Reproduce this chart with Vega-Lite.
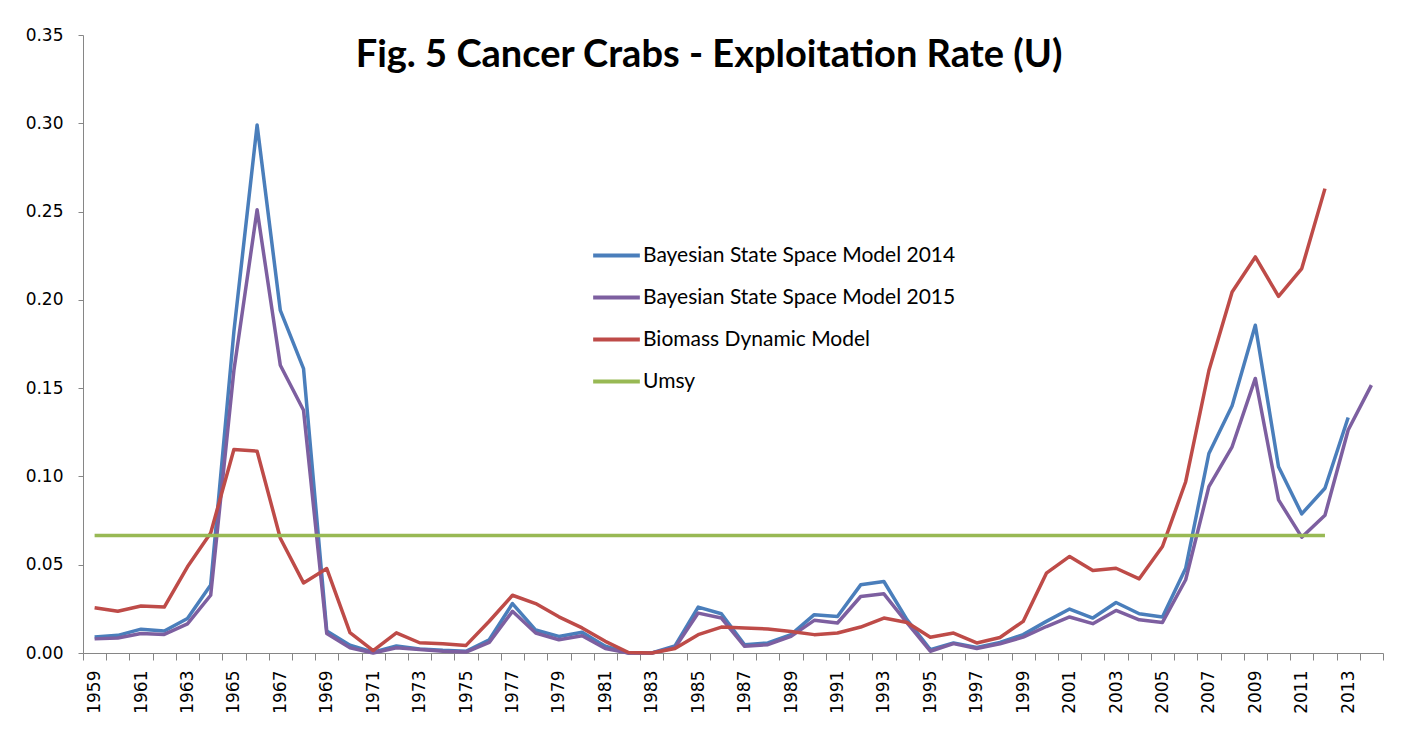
{
  "$schema": "https://vega.github.io/schema/vega-lite/v6.json",
  "autosize": {"type": "none"},
  "width": 1300,
  "height": 618,
  "padding": {"left": 83, "top": 35, "right": 37, "bottom": 87},
  "background": "white",
  "title": {
    "text": "Fig. 5 Cancer Crabs - Exploitation Rate (U)",
    "font": "Lato",
    "fontWeight": "bold",
    "fontSize": 38,
    "color": "#000000",
    "orient": "none",
    "anchor": "middle",
    "align": "center",
    "frame": "group",
    "baseline": "alphabetic",
    "dx": 626,
    "dy": 32
  },
  "config": {
    "view": {"stroke": null},
    "axis": {"grid": false, "domainColor": "#868686", "tickColor": "#868686", "labelFont": "DejaVu Sans", "labelFontSize": 17, "labelColor": "#000000", "title": null}
  },
  "data": {
    "values": [
      {"series": "Bayesian State Space Model 2014", "year": 1959, "u": 0.009},
      {"series": "Bayesian State Space Model 2014", "year": 1960, "u": 0.010},
      {"series": "Bayesian State Space Model 2014", "year": 1961, "u": 0.0135},
      {"series": "Bayesian State Space Model 2014", "year": 1962, "u": 0.0125},
      {"series": "Bayesian State Space Model 2014", "year": 1963, "u": 0.0195},
      {"series": "Bayesian State Space Model 2014", "year": 1964, "u": 0.0385},
      {"series": "Bayesian State Space Model 2014", "year": 1965, "u": 0.182},
      {"series": "Bayesian State Space Model 2014", "year": 1966, "u": 0.299},
      {"series": "Bayesian State Space Model 2014", "year": 1967, "u": 0.194},
      {"series": "Bayesian State Space Model 2014", "year": 1968, "u": 0.161},
      {"series": "Bayesian State Space Model 2014", "year": 1969, "u": 0.0125},
      {"series": "Bayesian State Space Model 2014", "year": 1970, "u": 0.0044},
      {"series": "Bayesian State Space Model 2014", "year": 1971, "u": 0.0005},
      {"series": "Bayesian State Space Model 2014", "year": 1972, "u": 0.004},
      {"series": "Bayesian State Space Model 2014", "year": 1973, "u": 0.0023},
      {"series": "Bayesian State Space Model 2014", "year": 1974, "u": 0.0015},
      {"series": "Bayesian State Space Model 2014", "year": 1975, "u": 0.001},
      {"series": "Bayesian State Space Model 2014", "year": 1976, "u": 0.0075},
      {"series": "Bayesian State Space Model 2014", "year": 1977, "u": 0.028},
      {"series": "Bayesian State Space Model 2014", "year": 1978, "u": 0.013},
      {"series": "Bayesian State Space Model 2014", "year": 1979, "u": 0.0094},
      {"series": "Bayesian State Space Model 2014", "year": 1980, "u": 0.0117},
      {"series": "Bayesian State Space Model 2014", "year": 1981, "u": 0.0038},
      {"series": "Bayesian State Space Model 2014", "year": 1982, "u": 0.0},
      {"series": "Bayesian State Space Model 2014", "year": 1983, "u": 0.0},
      {"series": "Bayesian State Space Model 2014", "year": 1984, "u": 0.004},
      {"series": "Bayesian State Space Model 2014", "year": 1985, "u": 0.026},
      {"series": "Bayesian State Space Model 2014", "year": 1986, "u": 0.0222},
      {"series": "Bayesian State Space Model 2014", "year": 1987, "u": 0.0047},
      {"series": "Bayesian State Space Model 2014", "year": 1988, "u": 0.0057},
      {"series": "Bayesian State Space Model 2014", "year": 1989, "u": 0.0104},
      {"series": "Bayesian State Space Model 2014", "year": 1990, "u": 0.0217},
      {"series": "Bayesian State Space Model 2014", "year": 1991, "u": 0.0207},
      {"series": "Bayesian State Space Model 2014", "year": 1992, "u": 0.0386},
      {"series": "Bayesian State Space Model 2014", "year": 1993, "u": 0.0405},
      {"series": "Bayesian State Space Model 2014", "year": 1994, "u": 0.0188},
      {"series": "Bayesian State Space Model 2014", "year": 1995, "u": 0.0019},
      {"series": "Bayesian State Space Model 2014", "year": 1996, "u": 0.0057},
      {"series": "Bayesian State Space Model 2014", "year": 1997, "u": 0.0032},
      {"series": "Bayesian State Space Model 2014", "year": 1998, "u": 0.006},
      {"series": "Bayesian State Space Model 2014", "year": 1999, "u": 0.0104},
      {"series": "Bayesian State Space Model 2014", "year": 2000, "u": 0.0179},
      {"series": "Bayesian State Space Model 2014", "year": 2001, "u": 0.0249},
      {"series": "Bayesian State Space Model 2014", "year": 2002, "u": 0.0198},
      {"series": "Bayesian State Space Model 2014", "year": 2003, "u": 0.0286},
      {"series": "Bayesian State Space Model 2014", "year": 2004, "u": 0.0222},
      {"series": "Bayesian State Space Model 2014", "year": 2005, "u": 0.0204},
      {"series": "Bayesian State Space Model 2014", "year": 2006, "u": 0.048},
      {"series": "Bayesian State Space Model 2014", "year": 2007, "u": 0.113},
      {"series": "Bayesian State Space Model 2014", "year": 2008, "u": 0.140},
      {"series": "Bayesian State Space Model 2014", "year": 2009, "u": 0.1856},
      {"series": "Bayesian State Space Model 2014", "year": 2010, "u": 0.1055},
      {"series": "Bayesian State Space Model 2014", "year": 2011, "u": 0.0788},
      {"series": "Bayesian State Space Model 2014", "year": 2012, "u": 0.0933},
      {"series": "Bayesian State Space Model 2014", "year": 2013, "u": 0.1334},

      {"series": "Bayesian State Space Model 2015", "year": 1959, "u": 0.008},
      {"series": "Bayesian State Space Model 2015", "year": 1960, "u": 0.0085},
      {"series": "Bayesian State Space Model 2015", "year": 1961, "u": 0.011},
      {"series": "Bayesian State Space Model 2015", "year": 1962, "u": 0.0105},
      {"series": "Bayesian State Space Model 2015", "year": 1963, "u": 0.0165},
      {"series": "Bayesian State Space Model 2015", "year": 1964, "u": 0.0327},
      {"series": "Bayesian State Space Model 2015", "year": 1965, "u": 0.16},
      {"series": "Bayesian State Space Model 2015", "year": 1966, "u": 0.251},
      {"series": "Bayesian State Space Model 2015", "year": 1967, "u": 0.163},
      {"series": "Bayesian State Space Model 2015", "year": 1968, "u": 0.1375},
      {"series": "Bayesian State Space Model 2015", "year": 1969, "u": 0.011},
      {"series": "Bayesian State Space Model 2015", "year": 1970, "u": 0.003},
      {"series": "Bayesian State Space Model 2015", "year": 1971, "u": 0.0},
      {"series": "Bayesian State Space Model 2015", "year": 1972, "u": 0.003},
      {"series": "Bayesian State Space Model 2015", "year": 1973, "u": 0.002},
      {"series": "Bayesian State Space Model 2015", "year": 1974, "u": 0.001},
      {"series": "Bayesian State Space Model 2015", "year": 1975, "u": 0.0005},
      {"series": "Bayesian State Space Model 2015", "year": 1976, "u": 0.006},
      {"series": "Bayesian State Space Model 2015", "year": 1977, "u": 0.0236},
      {"series": "Bayesian State Space Model 2015", "year": 1978, "u": 0.0113},
      {"series": "Bayesian State Space Model 2015", "year": 1979, "u": 0.0075},
      {"series": "Bayesian State Space Model 2015", "year": 1980, "u": 0.0098},
      {"series": "Bayesian State Space Model 2015", "year": 1981, "u": 0.0025},
      {"series": "Bayesian State Space Model 2015", "year": 1982, "u": 0.0},
      {"series": "Bayesian State Space Model 2015", "year": 1983, "u": 0.0},
      {"series": "Bayesian State Space Model 2015", "year": 1984, "u": 0.003},
      {"series": "Bayesian State Space Model 2015", "year": 1985, "u": 0.0226},
      {"series": "Bayesian State Space Model 2015", "year": 1986, "u": 0.0198},
      {"series": "Bayesian State Space Model 2015", "year": 1987, "u": 0.0038},
      {"series": "Bayesian State Space Model 2015", "year": 1988, "u": 0.0047},
      {"series": "Bayesian State Space Model 2015", "year": 1989, "u": 0.0094},
      {"series": "Bayesian State Space Model 2015", "year": 1990, "u": 0.0185},
      {"series": "Bayesian State Space Model 2015", "year": 1991, "u": 0.017},
      {"series": "Bayesian State Space Model 2015", "year": 1992, "u": 0.032},
      {"series": "Bayesian State Space Model 2015", "year": 1993, "u": 0.0335},
      {"series": "Bayesian State Space Model 2015", "year": 1994, "u": 0.017},
      {"series": "Bayesian State Space Model 2015", "year": 1995, "u": 0.001},
      {"series": "Bayesian State Space Model 2015", "year": 1996, "u": 0.0053},
      {"series": "Bayesian State Space Model 2015", "year": 1997, "u": 0.0025},
      {"series": "Bayesian State Space Model 2015", "year": 1998, "u": 0.0052},
      {"series": "Bayesian State Space Model 2015", "year": 1999, "u": 0.009},
      {"series": "Bayesian State Space Model 2015", "year": 2000, "u": 0.015},
      {"series": "Bayesian State Space Model 2015", "year": 2001, "u": 0.0204},
      {"series": "Bayesian State Space Model 2015", "year": 2002, "u": 0.0166},
      {"series": "Bayesian State Space Model 2015", "year": 2003, "u": 0.0241},
      {"series": "Bayesian State Space Model 2015", "year": 2004, "u": 0.0188},
      {"series": "Bayesian State Space Model 2015", "year": 2005, "u": 0.0173},
      {"series": "Bayesian State Space Model 2015", "year": 2006, "u": 0.0415},
      {"series": "Bayesian State Space Model 2015", "year": 2007, "u": 0.0942},
      {"series": "Bayesian State Space Model 2015", "year": 2008, "u": 0.1168},
      {"series": "Bayesian State Space Model 2015", "year": 2009, "u": 0.1555},
      {"series": "Bayesian State Space Model 2015", "year": 2010, "u": 0.0867},
      {"series": "Bayesian State Space Model 2015", "year": 2011, "u": 0.0656},
      {"series": "Bayesian State Space Model 2015", "year": 2012, "u": 0.078},
      {"series": "Bayesian State Space Model 2015", "year": 2013, "u": 0.1263},
      {"series": "Bayesian State Space Model 2015", "year": 2014, "u": 0.1517},

      {"series": "Biomass Dynamic Model", "year": 1959, "u": 0.0256},
      {"series": "Biomass Dynamic Model", "year": 1960, "u": 0.0236},
      {"series": "Biomass Dynamic Model", "year": 1961, "u": 0.0266},
      {"series": "Biomass Dynamic Model", "year": 1962, "u": 0.026},
      {"series": "Biomass Dynamic Model", "year": 1963, "u": 0.0488},
      {"series": "Biomass Dynamic Model", "year": 1964, "u": 0.068},
      {"series": "Biomass Dynamic Model", "year": 1965, "u": 0.1153},
      {"series": "Biomass Dynamic Model", "year": 1966, "u": 0.1143},
      {"series": "Biomass Dynamic Model", "year": 1967, "u": 0.065},
      {"series": "Biomass Dynamic Model", "year": 1968, "u": 0.0397},
      {"series": "Biomass Dynamic Model", "year": 1969, "u": 0.0478},
      {"series": "Biomass Dynamic Model", "year": 1970, "u": 0.0115},
      {"series": "Biomass Dynamic Model", "year": 1971, "u": 0.0014},
      {"series": "Biomass Dynamic Model", "year": 1972, "u": 0.0114},
      {"series": "Biomass Dynamic Model", "year": 1973, "u": 0.0058},
      {"series": "Biomass Dynamic Model", "year": 1974, "u": 0.0052},
      {"series": "Biomass Dynamic Model", "year": 1975, "u": 0.0043},
      {"series": "Biomass Dynamic Model", "year": 1976, "u": 0.018},
      {"series": "Biomass Dynamic Model", "year": 1977, "u": 0.0327},
      {"series": "Biomass Dynamic Model", "year": 1978, "u": 0.028},
      {"series": "Biomass Dynamic Model", "year": 1979, "u": 0.0205},
      {"series": "Biomass Dynamic Model", "year": 1980, "u": 0.0142},
      {"series": "Biomass Dynamic Model", "year": 1981, "u": 0.0066},
      {"series": "Biomass Dynamic Model", "year": 1982, "u": 0.0003},
      {"series": "Biomass Dynamic Model", "year": 1983, "u": 0.0},
      {"series": "Biomass Dynamic Model", "year": 1984, "u": 0.0025},
      {"series": "Biomass Dynamic Model", "year": 1985, "u": 0.0104},
      {"series": "Biomass Dynamic Model", "year": 1986, "u": 0.0147},
      {"series": "Biomass Dynamic Model", "year": 1987, "u": 0.0141},
      {"series": "Biomass Dynamic Model", "year": 1988, "u": 0.0136},
      {"series": "Biomass Dynamic Model", "year": 1989, "u": 0.0122},
      {"series": "Biomass Dynamic Model", "year": 1990, "u": 0.0104},
      {"series": "Biomass Dynamic Model", "year": 1991, "u": 0.0113},
      {"series": "Biomass Dynamic Model", "year": 1992, "u": 0.0147},
      {"series": "Biomass Dynamic Model", "year": 1993, "u": 0.0198},
      {"series": "Biomass Dynamic Model", "year": 1994, "u": 0.0173},
      {"series": "Biomass Dynamic Model", "year": 1995, "u": 0.0089},
      {"series": "Biomass Dynamic Model", "year": 1996, "u": 0.0113},
      {"series": "Biomass Dynamic Model", "year": 1997, "u": 0.0057},
      {"series": "Biomass Dynamic Model", "year": 1998, "u": 0.0088},
      {"series": "Biomass Dynamic Model", "year": 1999, "u": 0.0179},
      {"series": "Biomass Dynamic Model", "year": 2000, "u": 0.0452},
      {"series": "Biomass Dynamic Model", "year": 2001, "u": 0.0547},
      {"series": "Biomass Dynamic Model", "year": 2002, "u": 0.0467},
      {"series": "Biomass Dynamic Model", "year": 2003, "u": 0.048},
      {"series": "Biomass Dynamic Model", "year": 2004, "u": 0.042},
      {"series": "Biomass Dynamic Model", "year": 2005, "u": 0.0603},
      {"series": "Biomass Dynamic Model", "year": 2006, "u": 0.097},
      {"series": "Biomass Dynamic Model", "year": 2007, "u": 0.160},
      {"series": "Biomass Dynamic Model", "year": 2008, "u": 0.2045},
      {"series": "Biomass Dynamic Model", "year": 2009, "u": 0.2243},
      {"series": "Biomass Dynamic Model", "year": 2010, "u": 0.202},
      {"series": "Biomass Dynamic Model", "year": 2011, "u": 0.2177},
      {"series": "Biomass Dynamic Model", "year": 2012, "u": 0.263},

      {"series": "Umsy", "year": 1959, "u": 0.0666},
      {"series": "Umsy", "year": 1960, "u": 0.0666},
      {"series": "Umsy", "year": 1961, "u": 0.0666},
      {"series": "Umsy", "year": 1962, "u": 0.0666},
      {"series": "Umsy", "year": 1963, "u": 0.0666},
      {"series": "Umsy", "year": 1964, "u": 0.0666},
      {"series": "Umsy", "year": 1965, "u": 0.0666},
      {"series": "Umsy", "year": 1966, "u": 0.0666},
      {"series": "Umsy", "year": 1967, "u": 0.0666},
      {"series": "Umsy", "year": 1968, "u": 0.0666},
      {"series": "Umsy", "year": 1969, "u": 0.0666},
      {"series": "Umsy", "year": 1970, "u": 0.0666},
      {"series": "Umsy", "year": 1971, "u": 0.0666},
      {"series": "Umsy", "year": 1972, "u": 0.0666},
      {"series": "Umsy", "year": 1973, "u": 0.0666},
      {"series": "Umsy", "year": 1974, "u": 0.0666},
      {"series": "Umsy", "year": 1975, "u": 0.0666},
      {"series": "Umsy", "year": 1976, "u": 0.0666},
      {"series": "Umsy", "year": 1977, "u": 0.0666},
      {"series": "Umsy", "year": 1978, "u": 0.0666},
      {"series": "Umsy", "year": 1979, "u": 0.0666},
      {"series": "Umsy", "year": 1980, "u": 0.0666},
      {"series": "Umsy", "year": 1981, "u": 0.0666},
      {"series": "Umsy", "year": 1982, "u": 0.0666},
      {"series": "Umsy", "year": 1983, "u": 0.0666},
      {"series": "Umsy", "year": 1984, "u": 0.0666},
      {"series": "Umsy", "year": 1985, "u": 0.0666},
      {"series": "Umsy", "year": 1986, "u": 0.0666},
      {"series": "Umsy", "year": 1987, "u": 0.0666},
      {"series": "Umsy", "year": 1988, "u": 0.0666},
      {"series": "Umsy", "year": 1989, "u": 0.0666},
      {"series": "Umsy", "year": 1990, "u": 0.0666},
      {"series": "Umsy", "year": 1991, "u": 0.0666},
      {"series": "Umsy", "year": 1992, "u": 0.0666},
      {"series": "Umsy", "year": 1993, "u": 0.0666},
      {"series": "Umsy", "year": 1994, "u": 0.0666},
      {"series": "Umsy", "year": 1995, "u": 0.0666},
      {"series": "Umsy", "year": 1996, "u": 0.0666},
      {"series": "Umsy", "year": 1997, "u": 0.0666},
      {"series": "Umsy", "year": 1998, "u": 0.0666},
      {"series": "Umsy", "year": 1999, "u": 0.0666},
      {"series": "Umsy", "year": 2000, "u": 0.0666},
      {"series": "Umsy", "year": 2001, "u": 0.0666},
      {"series": "Umsy", "year": 2002, "u": 0.0666},
      {"series": "Umsy", "year": 2003, "u": 0.0666},
      {"series": "Umsy", "year": 2004, "u": 0.0666},
      {"series": "Umsy", "year": 2005, "u": 0.0666},
      {"series": "Umsy", "year": 2006, "u": 0.0666},
      {"series": "Umsy", "year": 2007, "u": 0.0666},
      {"series": "Umsy", "year": 2008, "u": 0.0666},
      {"series": "Umsy", "year": 2009, "u": 0.0666},
      {"series": "Umsy", "year": 2010, "u": 0.0666},
      {"series": "Umsy", "year": 2011, "u": 0.0666},
      {"series": "Umsy", "year": 2012, "u": 0.0666}
    ]
  },
  "mark": {"type": "line", "strokeWidth": 3.5, "strokeJoin": "round", "clip": false},
  "encoding": {
    "x": {
      "field": "year",
      "type": "ordinal",
      "bandPosition": 0.5,
      "scale": {"type": "band", "paddingInner": 0, "paddingOuter": 0, "domain": [1959,1960,1961,1962,1963,1964,1965,1966,1967,1968,1969,1970,1971,1972,1973,1974,1975,1976,1977,1978,1979,1980,1981,1982,1983,1984,1985,1986,1987,1988,1989,1990,1991,1992,1993,1994,1995,1996,1997,1998,1999,2000,2001,2002,2003,2004,2005,2006,2007,2008,2009,2010,2011,2012,2013,2014]},
      "axis": {
        "labelAngle": -90,
        "labelAlign": "right",
        "labelBaseline": "middle",
        "tickBand": "extent",
        "tickSize": 7,
        "labelPadding": 10,
        "labelOverlap": false,
        "labelExpr": "datum.value % 2 == 1 ? datum.label : ''"
      }
    },
    "y": {
      "field": "u",
      "type": "quantitative",
      "scale": {"domain": [0, 0.35], "nice": false, "zero": true},
      "axis": {"values": [0, 0.05, 0.1, 0.15, 0.2, 0.25, 0.3, 0.35], "format": ".2f", "tickSize": 5, "labelPadding": 15}
    },
    "color": {
      "field": "series",
      "type": "nominal",
      "scale": {
        "domain": ["Bayesian State Space Model 2014", "Bayesian State Space Model 2015", "Biomass Dynamic Model", "Umsy"],
        "range": ["#4A7EBB", "#7D5FA0", "#BE4B48", "#98B954"]
      },
      "legend": {
        "title": null,
        "orient": "none",
        "legendX": 508,
        "legendY": 195,
        "padding": 0,
        "symbolType": "stroke",
        "symbolSize": 2180,
        "symbolStrokeWidth": 4,
        "labelFont": "Lato",
        "labelFontSize": 21,
        "labelColor": "#000000",
        "labelOffset": 1,
        "labelLimit": 500,
        "rowPadding": 6
      }
    }
  }
}
